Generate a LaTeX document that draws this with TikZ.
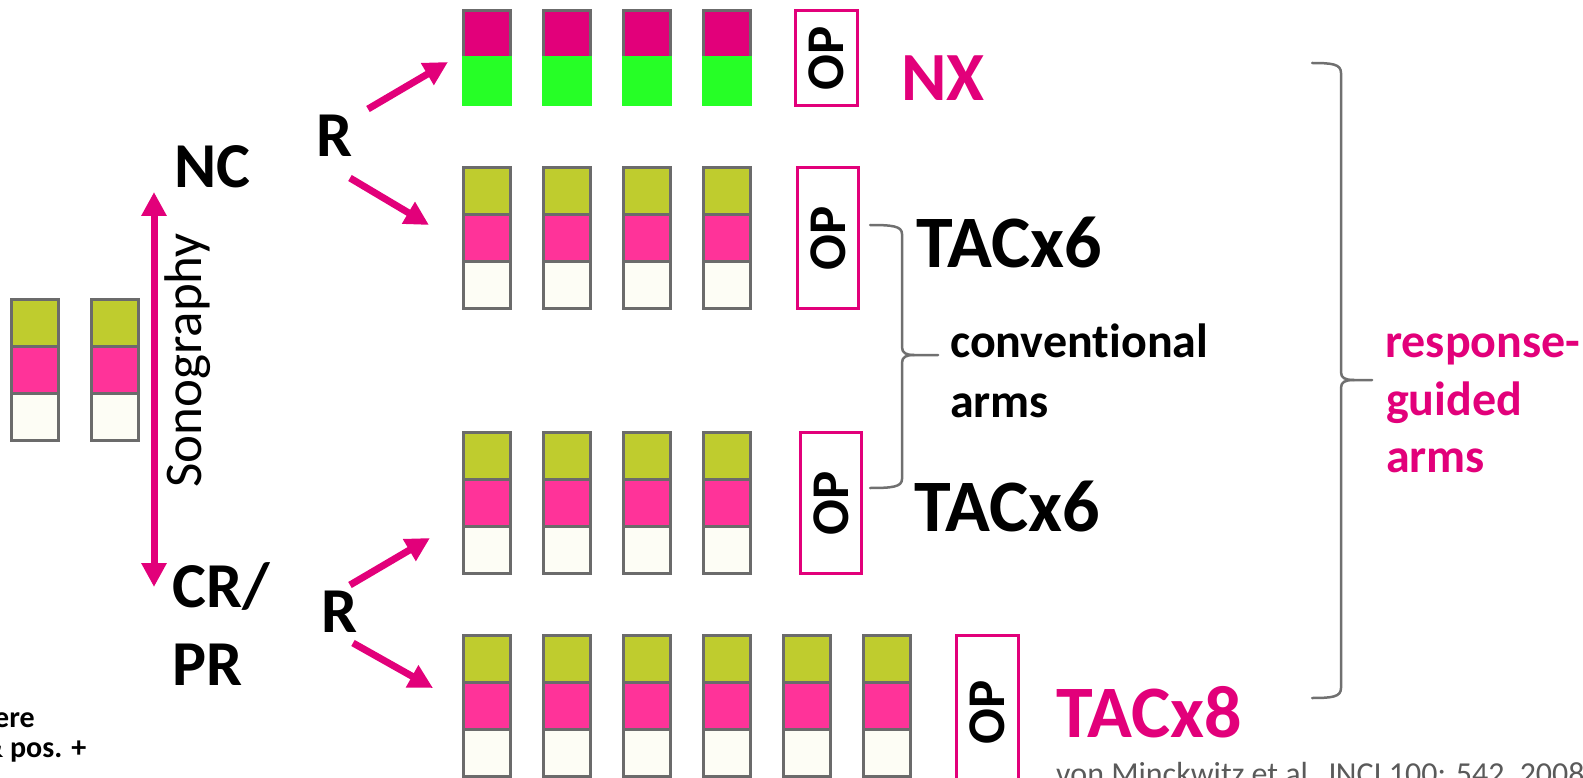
\documentclass[tikz,border=0pt]{standalone}
\usepackage{fontspec}
\setmainfont{Carlito}[Ligatures={NoCommon,NoRare,NoContextual}]
\usetikzlibrary{arrows.meta}

\definecolor{brandmag}{RGB}{226,0,122}
\definecolor{olivecell}{RGB}{191,204,46}
\definecolor{pinkcell}{RGB}{255,51,153}
\definecolor{creamcell}{RGB}{253,253,245}
\definecolor{greencell}{RGB}{38,255,38}
\definecolor{cellgray}{RGB}{107,107,107}
\definecolor{bracegray}{RGB}{112,112,112}
\definecolor{citegray}{RGB}{90,90,90}

% one treatment column: olive / pink / cream cells, #1 = left line, #2 = top line
\newcommand\armcol[2]{%
  \filldraw[cell, fill=olivecell] (#1,#2) rectangle ++(47,47);
  \filldraw[cell, fill=pinkcell] (#1,#2+47) rectangle ++(47,47);
  \filldraw[cell, fill=creamcell] (#1,#2+94) rectangle ++(47,47);
}
% column of the NX arm: magenta cell over a borderless green cell
\newcommand\nxcol[2]{%
  \filldraw[cell, fill=brandmag] (#1,#2) rectangle ++(47,47);
  \fill[greencell] (#1-1.5,#2+45.5) rectangle ++(50,50);
}

\begin{document}
\begin{tikzpicture}[x=1pt,y=-1pt,
  cell/.style={draw=cellgray, line width=3pt},
  magtip/.tip={Triangle[length=24pt,width=24pt]},
  flow/.style={draw=brandmag, line width=7pt, -magtip},
  opbox/.style={draw=brandmag, line width=3pt, rotate=90, inner sep=0pt,
    font=\fontsize{53}{60}\selectfont\bfseries},
  lbl/.style={inner sep=0pt, anchor=base west},
  side/.style={lbl, font=\fontsize{64}{76}\selectfont\bfseries},
  big/.style={lbl, font=\fontsize{74}{88}\selectfont\bfseries},
  note/.style={lbl, font=\fontsize{48}{56}\selectfont\bfseries},
  brace/.style={draw=bracegray, line width=2.5pt, line cap=round, line join=round}]

\useasboundingbox (0,0) rectangle (1583,778);
\clip (0,0) rectangle (1583,778);

% ---------- starting cycles ----------
\armcol{11.5}{299.5}
\armcol{91.5}{299.5}

% ---------- sonography split ----------
\coordinate (sonotop) at (154,192);
\coordinate (sonobot) at (154,587);
\draw[flow, magtip-magtip] (sonotop) -- (sonobot);
\node[rotate=90, anchor=base, inner sep=0pt, font=\fontsize{53}{62}\selectfont] (sono) at (201,360.5) {Sonography};

\node[side] (nc) at (174,188) {NC};
\node[side] (cr) at (172,607) {CR/};
\node[side] (pr) at (172,685) {PR};

% ---------- randomisations ----------
\node[side] (r1) at (316,157) {R};
\node[side] (r2) at (321,632) {R};

\coordinate (r1up) at (368,109);   \coordinate (nxin) at (448,62);
\coordinate (r1dn) at (350,178);   \coordinate (tacain) at (429,225);
\coordinate (r2up) at (350,585);   \coordinate (tacbin) at (430,538);
\coordinate (r2dn) at (353,643);   \coordinate (taccin) at (433,688);
\draw[flow] (r1up) -- (nxin);
\draw[flow] (r1dn) -- (tacain);
\draw[flow] (r2up) -- (tacbin);
\draw[flow] (r2dn) -- (taccin);

% ---------- arms ----------
\foreach \x in {463.5,543.5,623.5,703.5} {\nxcol{\x}{10.5}}
\foreach \x in {463.5,543.5,623.5,703.5} {\armcol{\x}{167.5}}
\foreach \x in {463.5,543.5,623.5,703.5} {\armcol{\x}{432.5}}
\foreach \x in {463.5,543.5,623.5,703.5,783.5,863.5} {\armcol{\x}{635.5}}

% surgery boxes
\node[opbox, minimum width=95pt, minimum height=62pt] (op1) at (826.5,58) {OP};
\node[opbox, minimum width=141pt, minimum height=61pt] (op2) at (828,238) {OP};
\node[opbox, minimum width=141pt, minimum height=61pt] (op3) at (831,503) {OP};
\node[opbox, minimum width=154pt, minimum height=62pt] (op4) at (987.5,712.5) {OP};

% arm labels
\node[lbl, font=\fontsize{69}{82}\selectfont\bfseries, text=brandmag] (nx) at (901,101) {NX};
\node[big] (taca) at (916,268) {TACx6};
\node[big] (tacb) at (914,531) {TACx6};
\node[big, text=brandmag] (tacc) at (1056,737) {TACx8};

% ---------- braces ----------
\draw[brace] (870,225) .. controls (892,225) and (902,226) .. (902,234)
  -- (902,347) .. controls (902,353) and (906,355) .. (914,355) -- (938,355);
\draw[brace] (914,355) .. controls (906,355) and (902,357) .. (902,363)
  -- (902,479) .. controls (902,487) and (892,488) .. (870,488);
\node[note] (conva) at (950,357) {convent\kern0pt ional};
\node[note] (convb) at (950,417) {arms};

\draw[brace] (1312,63) .. controls (1332,63) and (1341,64) .. (1341,73)
  -- (1341,372) .. controls (1341,378) and (1345,380) .. (1354,380) -- (1372,380);
\draw[brace] (1354,380) .. controls (1345,380) and (1341,382) .. (1341,388)
  -- (1341,688) .. controls (1341,697) and (1332,698) .. (1312,698);
\node[note, text=brandmag] (rga) at (1385,357) {response-};
\node[note, text=brandmag] (rgb) at (1386,415) {guided};
\node[note, text=brandmag] (rgc) at (1386,472) {arms};

% ---------- footnotes ----------
\node[lbl, font=\fontsize{30}{36}\selectfont\bfseries] (fna) at (-6,727) {ere};
\node[lbl, font=\fontsize{30}{36}\selectfont\bfseries] (fnb) at (-18,757) {\& pos. +};
\node[lbl, font=\fontsize{32}{38}\selectfont, text=citegray] (cite) at (1056,784) {von Minckwitz et al. JNCI 100: 542, 2008};
\end{tikzpicture}
\end{document}
